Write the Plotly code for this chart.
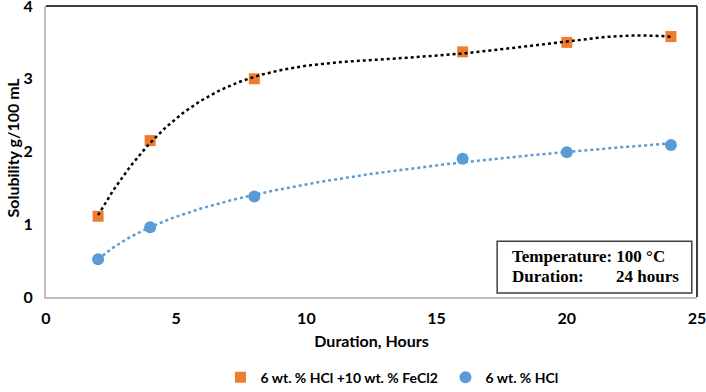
import numpy as np
import plotly.graph_objects as go

hours = [2, 4, 8, 16, 20, 24]
fecl2_vals = [1.11, 2.15, 3.00, 3.37, 3.50, 3.58]
hcl_vals = [0.52, 0.96, 1.38, 1.90, 1.99, 2.09]
name_fecl2 = "6 wt. % HCl +10 wt. % FeCl2"
name_hcl = "6 wt. % HCl"
x_ticks = [0, 5, 10, 15, 20, 25]
y_ticks = [0, 1, 2, 3, 4]

ORANGE = "#ED7D31"
BLUE = "#5B9BD5"
FONT = "Lato"
SERIF = "Liberation Serif"

# trendlines fitted from the data (polynomial for FeCl2, logarithmic for HCl)
xs = np.linspace(min(hours), max(hours), 200)
p = np.polyfit(hours, fecl2_vals, 4)
trend_fe = np.polyval(p, xs)
a, b = np.polyfit(np.log(hours), hcl_vals, 1)
trend_hcl = a * np.log(xs) + b

fig = go.Figure()
fig.add_trace(go.Scatter(x=hours, y=fecl2_vals, mode="markers", name=name_fecl2,
                         marker=dict(symbol="square", size=11, color=ORANGE)))
fig.add_trace(go.Scatter(x=hours, y=hcl_vals, mode="markers", name=name_hcl,
                         marker=dict(symbol="circle", size=12, color=BLUE)))
fig.add_trace(go.Scatter(x=xs, y=trend_hcl, mode="lines",
                         line=dict(color=BLUE, width=2.5, dash="dot"),
                         showlegend=False, hoverinfo="skip"))
fig.add_trace(go.Scatter(x=xs, y=trend_fe, mode="lines",
                         line=dict(color="black", width=2.5, dash="dot"),
                         showlegend=False, hoverinfo="skip"))

fig.update_layout(
    width=706, height=392,
    margin=dict(l=46, r=9, t=6, b=95, autoexpand=False),
    paper_bgcolor="white", plot_bgcolor="white",
    font=dict(family=FONT, size=14, color="black"),
    showlegend=True,
    legend=dict(orientation="h", x=0.268, xanchor="left", y=-0.222, yanchor="top",
                font=dict(family=FONT, size=14, color="black", weight="bold"),
                entrywidth=180, itemwidth=30),
    xaxis=dict(range=[0, 25], tickvals=x_ticks, showgrid=False, zeroline=False,
               showline=True, linecolor="#bfbfbf", linewidth=2, automargin=False,
               ticks="", ticklabelstandoff=6, ticklabeloverflow="allow",
               tickfont=dict(family=FONT, size=16, color="black", weight="bold"),
               title=dict(text="<b>Duration, Hours</b>", font=dict(family=FONT, size=16), standoff=10)),
    yaxis=dict(range=[0, 4], tickvals=y_ticks, showgrid=False, zeroline=False,
               showline=True, linecolor="#bfbfbf", linewidth=2, automargin=False,
               ticks="", ticklabelstandoff=8, ticklabeloverflow="allow",
               tickfont=dict(family=FONT, size=16, color="black", weight="bold")),
    shapes=[
        dict(type="line", xref="paper", yref="paper", x0=0, x1=1, y0=1, y1=1,
             line=dict(color="#404040", width=2)),
        dict(type="line", xref="paper", yref="paper", x0=1, x1=1, y0=0, y1=1,
             line=dict(color="#404040", width=2)),
        dict(type="rect", xref="paper", yref="paper", x0=0.693, x1=0.992, y0=0.014, y1=0.192,
             line=dict(color="#404040", width=1.5), fillcolor="white", layer="above"),
    ],
    annotations=[
        dict(xref="paper", yref="paper", x=(0 - 46) / 651, y=(297 - 148) / 291,
             xanchor="left", yanchor="middle", textangle=-90,
             text="<b>Solubility g/100 mL</b>", showarrow=False,
             font=dict(family=FONT, size=16, color="black")),
        dict(xref="paper", yref="paper", x=(510 - 46) / 651, y=(297 - 256) / 291,
             xanchor="left", yanchor="middle", text="<b>Temperature: 100 °C</b>",
             showarrow=False, font=dict(family=SERIF, size=17, color="black")),
        dict(xref="paper", yref="paper", x=(510 - 46) / 651, y=(297 - 276) / 291,
             xanchor="left", yanchor="middle", text="<b>Duration:</b>",
             showarrow=False, font=dict(family=SERIF, size=17, color="black")),
        dict(xref="paper", yref="paper", x=(681 - 46) / 651, y=(297 - 276) / 291,
             xanchor="right", yanchor="middle", text="<b>24 hours</b>",
             showarrow=False, font=dict(family=SERIF, size=17, color="black")),
    ],
)

fig.write_html("out.html", config={"displayModeBar": False},
               post_script="document.documentElement.style.margin='0';"
                           "document.body.style.margin='0';document.body.style.padding='0';")
